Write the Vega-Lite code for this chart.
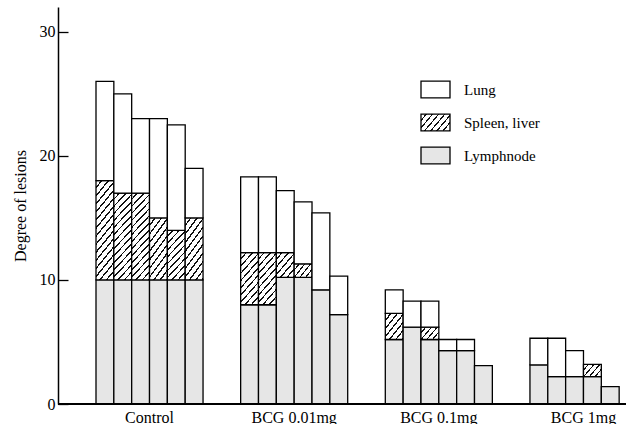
{
  "$schema": "https://vega.github.io/schema/vega-lite/v6.json",
  "width": 568,
  "height": 397,
  "autosize": "none",
  "padding": {"left": 58, "top": 7, "right": 15, "bottom": 20},
  "background": "white",
  "config": {"view": {"stroke": null}, "font": "Liberation Serif"},
  "data": {"values": [
    {"group": "Control", "bar": 1, "organ": "Lymphnode", "value": 10},
    {"group": "Control", "bar": 1, "organ": "Spleen, liver", "value": 8},
    {"group": "Control", "bar": 1, "organ": "Lung", "value": 8},
    {"group": "Control", "bar": 2, "organ": "Lymphnode", "value": 10},
    {"group": "Control", "bar": 2, "organ": "Spleen, liver", "value": 7},
    {"group": "Control", "bar": 2, "organ": "Lung", "value": 8},
    {"group": "Control", "bar": 3, "organ": "Lymphnode", "value": 10},
    {"group": "Control", "bar": 3, "organ": "Spleen, liver", "value": 7},
    {"group": "Control", "bar": 3, "organ": "Lung", "value": 6},
    {"group": "Control", "bar": 4, "organ": "Lymphnode", "value": 10},
    {"group": "Control", "bar": 4, "organ": "Spleen, liver", "value": 5},
    {"group": "Control", "bar": 4, "organ": "Lung", "value": 8},
    {"group": "Control", "bar": 5, "organ": "Lymphnode", "value": 10},
    {"group": "Control", "bar": 5, "organ": "Spleen, liver", "value": 4},
    {"group": "Control", "bar": 5, "organ": "Lung", "value": 8.5},
    {"group": "Control", "bar": 6, "organ": "Lymphnode", "value": 10},
    {"group": "Control", "bar": 6, "organ": "Spleen, liver", "value": 5},
    {"group": "Control", "bar": 6, "organ": "Lung", "value": 4},
    {"group": "BCG 0.01mg", "bar": 1, "organ": "Lymphnode", "value": 8},
    {"group": "BCG 0.01mg", "bar": 1, "organ": "Spleen, liver", "value": 4.2},
    {"group": "BCG 0.01mg", "bar": 1, "organ": "Lung", "value": 6.1},
    {"group": "BCG 0.01mg", "bar": 2, "organ": "Lymphnode", "value": 8},
    {"group": "BCG 0.01mg", "bar": 2, "organ": "Spleen, liver", "value": 4.2},
    {"group": "BCG 0.01mg", "bar": 2, "organ": "Lung", "value": 6.1},
    {"group": "BCG 0.01mg", "bar": 3, "organ": "Lymphnode", "value": 10.2},
    {"group": "BCG 0.01mg", "bar": 3, "organ": "Spleen, liver", "value": 2.0},
    {"group": "BCG 0.01mg", "bar": 3, "organ": "Lung", "value": 5.0},
    {"group": "BCG 0.01mg", "bar": 4, "organ": "Lymphnode", "value": 10.2},
    {"group": "BCG 0.01mg", "bar": 4, "organ": "Spleen, liver", "value": 1.1},
    {"group": "BCG 0.01mg", "bar": 4, "organ": "Lung", "value": 5.0},
    {"group": "BCG 0.01mg", "bar": 5, "organ": "Lymphnode", "value": 9.2},
    {"group": "BCG 0.01mg", "bar": 5, "organ": "Lung", "value": 6.2},
    {"group": "BCG 0.01mg", "bar": 6, "organ": "Lymphnode", "value": 7.2},
    {"group": "BCG 0.01mg", "bar": 6, "organ": "Lung", "value": 3.1},
    {"group": "BCG 0.1mg", "bar": 1, "organ": "Lymphnode", "value": 5.2},
    {"group": "BCG 0.1mg", "bar": 1, "organ": "Spleen, liver", "value": 2.1},
    {"group": "BCG 0.1mg", "bar": 1, "organ": "Lung", "value": 1.9},
    {"group": "BCG 0.1mg", "bar": 2, "organ": "Lymphnode", "value": 6.2},
    {"group": "BCG 0.1mg", "bar": 2, "organ": "Lung", "value": 2.1},
    {"group": "BCG 0.1mg", "bar": 3, "organ": "Lymphnode", "value": 5.2},
    {"group": "BCG 0.1mg", "bar": 3, "organ": "Spleen, liver", "value": 1.0},
    {"group": "BCG 0.1mg", "bar": 3, "organ": "Lung", "value": 2.1},
    {"group": "BCG 0.1mg", "bar": 4, "organ": "Lymphnode", "value": 4.3},
    {"group": "BCG 0.1mg", "bar": 4, "organ": "Lung", "value": 0.9},
    {"group": "BCG 0.1mg", "bar": 5, "organ": "Lymphnode", "value": 4.3},
    {"group": "BCG 0.1mg", "bar": 5, "organ": "Lung", "value": 0.9},
    {"group": "BCG 0.1mg", "bar": 6, "organ": "Lymphnode", "value": 3.1},
    {"group": "BCG 1mg", "bar": 1, "organ": "Lymphnode", "value": 3.15},
    {"group": "BCG 1mg", "bar": 1, "organ": "Lung", "value": 2.15},
    {"group": "BCG 1mg", "bar": 2, "organ": "Lymphnode", "value": 2.2},
    {"group": "BCG 1mg", "bar": 2, "organ": "Lung", "value": 3.1},
    {"group": "BCG 1mg", "bar": 3, "organ": "Lymphnode", "value": 2.2},
    {"group": "BCG 1mg", "bar": 3, "organ": "Lung", "value": 2.1},
    {"group": "BCG 1mg", "bar": 4, "organ": "Lymphnode", "value": 2.2},
    {"group": "BCG 1mg", "bar": 4, "organ": "Spleen, liver", "value": 1.0},
    {"group": "BCG 1mg", "bar": 5, "organ": "Lymphnode", "value": 1.4}
  ]},
  "transform": [
    {"calculate": "indexof(['Lymphnode', 'Spleen, liver', 'Lung'], datum.organ)", "as": "stack_rank"}
  ],
  "layer": [
    {
      "mark": {"type": "bar", "stroke": "black", "strokeWidth": 1.3},
      "encoding": {
        "x": {
          "field": "group", "type": "nominal",
          "sort": ["Control", "BCG 0.01mg", "BCG 0.1mg", "BCG 1mg"],
          "scale": {"range": [38, 579], "paddingInner": 0.26, "paddingOuter": 0},
          "axis": {"title": null, "ticks": false, "domain": false, "labelAngle": 0, "labelFont": "Liberation Serif", "labelFontSize": 16, "labelColor": "black", "labelPadding": 5}
        },
        "xOffset": {"field": "bar", "type": "ordinal", "scale": {"paddingInner": 0, "paddingOuter": 0}},
        "y": {
          "field": "value", "type": "quantitative", "stack": "zero",
          "scale": {"domain": [0, 32], "nice": false},
          "axis": {"title": "Degree of lesions", "values": [0, 10, 20, 30], "grid": false, "tickSize": -10, "tickWidth": 1.3, "tickColor": "black", "domainColor": "black", "domainWidth": 1.5, "labelFont": "Liberation Serif", "labelFontSize": 16, "labelColor": "black", "labelPadding": 13, "titleFont": "Liberation Serif", "titleFontSize": 16, "titleFontWeight": "normal", "titleColor": "black", "titlePadding": 11}
        },
        "order": {"field": "stack_rank", "type": "quantitative", "sort": "ascending"},
        "fill": {
          "condition": [
            {"test": "datum.organ === 'Spleen, liver' && datum.value >= 6", "value": {"gradient": "linear", "x1": 0, "y1": 0, "x2": 0.256, "y2": 1.164, "stops": [
              {"offset": 0, "color": "#fff"}, {"offset": 0.05, "color": "#fff"}, {"offset": 0.05, "color": "#111"}, {"offset": 0.0667, "color": "#111"},
              {"offset": 0.0667, "color": "#fff"}, {"offset": 0.1167, "color": "#fff"}, {"offset": 0.1167, "color": "#111"}, {"offset": 0.1333, "color": "#111"},
              {"offset": 0.1333, "color": "#fff"}, {"offset": 0.1833, "color": "#fff"}, {"offset": 0.1833, "color": "#111"}, {"offset": 0.2, "color": "#111"},
              {"offset": 0.2, "color": "#fff"}, {"offset": 0.25, "color": "#fff"}, {"offset": 0.25, "color": "#111"}, {"offset": 0.2667, "color": "#111"},
              {"offset": 0.2667, "color": "#fff"}, {"offset": 0.3167, "color": "#fff"}, {"offset": 0.3167, "color": "#111"}, {"offset": 0.3333, "color": "#111"},
              {"offset": 0.3333, "color": "#fff"}, {"offset": 0.3833, "color": "#fff"}, {"offset": 0.3833, "color": "#111"}, {"offset": 0.4, "color": "#111"},
              {"offset": 0.4, "color": "#fff"}, {"offset": 0.45, "color": "#fff"}, {"offset": 0.45, "color": "#111"}, {"offset": 0.4667, "color": "#111"},
              {"offset": 0.4667, "color": "#fff"}, {"offset": 0.5167, "color": "#fff"}, {"offset": 0.5167, "color": "#111"}, {"offset": 0.5333, "color": "#111"},
              {"offset": 0.5333, "color": "#fff"}, {"offset": 0.5833, "color": "#fff"}, {"offset": 0.5833, "color": "#111"}, {"offset": 0.6, "color": "#111"},
              {"offset": 0.6, "color": "#fff"}, {"offset": 0.65, "color": "#fff"}, {"offset": 0.65, "color": "#111"}, {"offset": 0.6667, "color": "#111"},
              {"offset": 0.6667, "color": "#fff"}, {"offset": 0.7167, "color": "#fff"}, {"offset": 0.7167, "color": "#111"}, {"offset": 0.7333, "color": "#111"},
              {"offset": 0.7333, "color": "#fff"}, {"offset": 0.7833, "color": "#fff"}, {"offset": 0.7833, "color": "#111"}, {"offset": 0.8, "color": "#111"},
              {"offset": 0.8, "color": "#fff"}, {"offset": 0.85, "color": "#fff"}, {"offset": 0.85, "color": "#111"}, {"offset": 0.8667, "color": "#111"},
              {"offset": 0.8667, "color": "#fff"}, {"offset": 0.9167, "color": "#fff"}, {"offset": 0.9167, "color": "#111"}, {"offset": 0.9333, "color": "#111"},
              {"offset": 0.9333, "color": "#fff"}, {"offset": 0.9833, "color": "#fff"}, {"offset": 0.9833, "color": "#111"}, {"offset": 1, "color": "#111"}
            ]}},
            {"test": "datum.organ === 'Spleen, liver' && datum.value >= 3.5", "value": {"gradient": "linear", "x1": 0, "y1": 0, "x2": 0.466, "y2": 1.206, "stops": [
              {"offset": 0, "color": "#fff"}, {"offset": 0.075, "color": "#fff"}, {"offset": 0.075, "color": "#111"}, {"offset": 0.1, "color": "#111"},
              {"offset": 0.1, "color": "#fff"}, {"offset": 0.175, "color": "#fff"}, {"offset": 0.175, "color": "#111"}, {"offset": 0.2, "color": "#111"},
              {"offset": 0.2, "color": "#fff"}, {"offset": 0.275, "color": "#fff"}, {"offset": 0.275, "color": "#111"}, {"offset": 0.3, "color": "#111"},
              {"offset": 0.3, "color": "#fff"}, {"offset": 0.375, "color": "#fff"}, {"offset": 0.375, "color": "#111"}, {"offset": 0.4, "color": "#111"},
              {"offset": 0.4, "color": "#fff"}, {"offset": 0.475, "color": "#fff"}, {"offset": 0.475, "color": "#111"}, {"offset": 0.5, "color": "#111"},
              {"offset": 0.5, "color": "#fff"}, {"offset": 0.575, "color": "#fff"}, {"offset": 0.575, "color": "#111"}, {"offset": 0.6, "color": "#111"},
              {"offset": 0.6, "color": "#fff"}, {"offset": 0.675, "color": "#fff"}, {"offset": 0.675, "color": "#111"}, {"offset": 0.7, "color": "#111"},
              {"offset": 0.7, "color": "#fff"}, {"offset": 0.775, "color": "#fff"}, {"offset": 0.775, "color": "#111"}, {"offset": 0.8, "color": "#111"},
              {"offset": 0.8, "color": "#fff"}, {"offset": 0.875, "color": "#fff"}, {"offset": 0.875, "color": "#111"}, {"offset": 0.9, "color": "#111"},
              {"offset": 0.9, "color": "#fff"}, {"offset": 0.975, "color": "#fff"}, {"offset": 0.975, "color": "#111"}, {"offset": 1, "color": "#111"}
            ]}},
            {"test": "datum.organ === 'Spleen, liver' && datum.value >= 1.5", "value": {"gradient": "linear", "x1": 0, "y1": 0, "x2": 0.913, "y2": 1.074, "stops": [
              {"offset": 0, "color": "#fff"}, {"offset": 0.125, "color": "#fff"}, {"offset": 0.125, "color": "#111"}, {"offset": 0.1667, "color": "#111"},
              {"offset": 0.1667, "color": "#fff"}, {"offset": 0.2917, "color": "#fff"}, {"offset": 0.2917, "color": "#111"}, {"offset": 0.3333, "color": "#111"},
              {"offset": 0.3333, "color": "#fff"}, {"offset": 0.4583, "color": "#fff"}, {"offset": 0.4583, "color": "#111"}, {"offset": 0.5, "color": "#111"},
              {"offset": 0.5, "color": "#fff"}, {"offset": 0.625, "color": "#fff"}, {"offset": 0.625, "color": "#111"}, {"offset": 0.6667, "color": "#111"},
              {"offset": 0.6667, "color": "#fff"}, {"offset": 0.7917, "color": "#fff"}, {"offset": 0.7917, "color": "#111"}, {"offset": 0.8333, "color": "#111"},
              {"offset": 0.8333, "color": "#fff"}, {"offset": 0.9583, "color": "#fff"}, {"offset": 0.9583, "color": "#111"}, {"offset": 1, "color": "#111"}
            ]}},
            {"test": "datum.organ === 'Spleen, liver'", "value": {"gradient": "linear", "x1": 0, "y1": 0, "x2": 1.176, "y2": 0.708, "stops": [
              {"offset": 0, "color": "#fff"}, {"offset": 0.15, "color": "#fff"}, {"offset": 0.15, "color": "#111"}, {"offset": 0.2, "color": "#111"},
              {"offset": 0.2, "color": "#fff"}, {"offset": 0.35, "color": "#fff"}, {"offset": 0.35, "color": "#111"}, {"offset": 0.4, "color": "#111"},
              {"offset": 0.4, "color": "#fff"}, {"offset": 0.55, "color": "#fff"}, {"offset": 0.55, "color": "#111"}, {"offset": 0.6, "color": "#111"},
              {"offset": 0.6, "color": "#fff"}, {"offset": 0.75, "color": "#fff"}, {"offset": 0.75, "color": "#111"}, {"offset": 0.8, "color": "#111"},
              {"offset": 0.8, "color": "#fff"}, {"offset": 0.95, "color": "#fff"}, {"offset": 0.95, "color": "#111"}, {"offset": 1, "color": "#111"}
            ]}}
          ],
          "field": "organ", "type": "nominal",
          "scale": {
            "domain": ["Lung", "Spleen, liver", "Lymphnode"],
            "range": [
              "#ffffff",
              {"expr": "{gradient: 'linear', x1: 0, y1: 0, x2: 1.2, y2: 0.586, stops: [{offset: 0, color: '#fff'}, {offset: 0.1071, color: '#fff'}, {offset: 0.1071, color: '#111'}, {offset: 0.1429, color: '#111'}, {offset: 0.1429, color: '#fff'}, {offset: 0.25, color: '#fff'}, {offset: 0.25, color: '#111'}, {offset: 0.2857, color: '#111'}, {offset: 0.2857, color: '#fff'}, {offset: 0.3929, color: '#fff'}, {offset: 0.3929, color: '#111'}, {offset: 0.4286, color: '#111'}, {offset: 0.4286, color: '#fff'}, {offset: 0.5357, color: '#fff'}, {offset: 0.5357, color: '#111'}, {offset: 0.5714, color: '#111'}, {offset: 0.5714, color: '#fff'}, {offset: 0.6786, color: '#fff'}, {offset: 0.6786, color: '#111'}, {offset: 0.7143, color: '#111'}, {offset: 0.7143, color: '#fff'}, {offset: 0.8214, color: '#fff'}, {offset: 0.8214, color: '#111'}, {offset: 0.8571, color: '#111'}, {offset: 0.8571, color: '#fff'}, {offset: 0.9643, color: '#fff'}, {offset: 0.9643, color: '#111'}, {offset: 1, color: '#111'}]}"},
              "#e6e6e6"
            ]
          },
          "legend": {
            "title": null, "orient": "none", "legendX": 362, "legendY": 67,
            "symbolType": "M-1,-0.58H1V0.58H-1Z", "symbolSize": 841,
            "symbolStrokeWidth": 1.3,
            "labelFont": "Liberation Serif", "labelFontSize": 15, "labelColor": "black", "labelOffset": 13, "rowPadding": 6
          }
        }
      }
    },
    {
      "mark": {"type": "rule", "color": "black", "strokeWidth": 1.5},
      "encoding": {"y": {"datum": 0}}
    }
  ]
}
